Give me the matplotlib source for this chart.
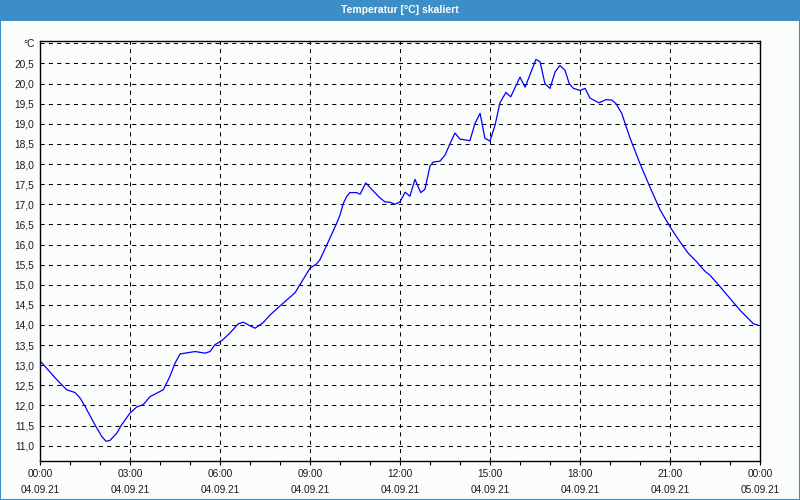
import numpy as np
import matplotlib
matplotlib.use('Agg')
import matplotlib.pyplot as plt
import matplotlib.patches as mpatches

# Temperature readings, hours since 04.09.21 00:00
hours = [0, 0.56, 0.89, 1.17, 1.33, 1.5, 1.83, 2.06, 2.2, 2.33, 2.56, 2.72,
         3.0, 3.22, 3.44, 3.67, 4.11, 4.33, 4.5, 4.67, 5.17, 5.5, 5.67, 5.83,
         6.06, 6.33, 6.61, 6.78, 7.0, 7.17, 7.44, 7.67, 7.98, 8.5, 9.0, 9.22,
         9.33, 9.61, 9.89, 10.0, 10.11, 10.22, 10.33, 10.56, 10.67, 10.86,
         11.11, 11.33, 11.5, 11.67, 11.83, 12.0, 12.17, 12.33, 12.5, 12.69,
         12.83, 13.0, 13.11, 13.33, 13.5, 13.67, 13.83, 14.0, 14.33, 14.5,
         14.67, 14.83, 15.0, 15.17, 15.33, 15.53, 15.69, 16.0, 16.17, 16.37,
         16.53, 16.67, 16.83, 17.0, 17.17, 17.33, 17.5, 17.64, 17.78, 18.0,
         18.17, 18.33, 18.63, 18.87, 19.06, 19.2, 19.39, 19.67, 20.0, 20.33,
         20.67, 21.0, 21.33, 21.61, 21.89, 22.17, 22.33, 22.67, 23.0, 23.33,
         23.78, 23.92]
temps = [13.11, 12.64, 12.39, 12.32, 12.19, 11.98, 11.52, 11.23, 11.11, 11.13,
         11.31, 11.52, 11.81, 11.96, 12.02, 12.22, 12.39, 12.72, 13.05, 13.28,
         13.34, 13.30, 13.34, 13.51, 13.61, 13.80, 14.03, 14.07, 13.98, 13.92,
         14.06, 14.25, 14.46, 14.80, 15.41, 15.52, 15.62, 16.07, 16.53, 16.73,
         17.02, 17.19, 17.29, 17.29, 17.25, 17.53, 17.33, 17.16, 17.06, 17.05,
         17.00, 17.06, 17.30, 17.20, 17.62, 17.29, 17.37, 17.95, 18.05, 18.07,
         18.22, 18.51, 18.77, 18.62, 18.58, 19.01, 19.26, 18.64, 18.57, 18.97,
         19.52, 19.78, 19.67, 20.16, 19.91, 20.29, 20.60, 20.54, 20.00, 19.88,
         20.29, 20.45, 20.33, 20.00, 19.88, 19.83, 19.88, 19.64, 19.52, 19.60,
         19.59, 19.50, 19.26, 18.64, 18.01, 17.43, 16.86, 16.44, 16.07, 15.78,
         15.57, 15.33, 15.24, 14.95, 14.66, 14.37, 14.03, 14.00]

x_ticks = [0, 3, 6, 9, 12, 15, 18, 21, 24]
x_labels = ['00:00\n04.09.21', '03:00\n04.09.21', '06:00\n04.09.21',
            '09:00\n04.09.21', '12:00\n04.09.21', '15:00\n04.09.21',
            '18:00\n04.09.21', '21:00\n04.09.21', '00:00\n05.09.21']
y_ticks = [11.0, 11.5, 12.0, 12.5, 13.0, 13.5, 14.0, 14.5, 15.0, 15.5, 16.0,
           16.5, 17.0, 17.5, 18.0, 18.5, 19.0, 19.5, 20.0, 20.5, 21.0]

BG = '#fbfdfc'
FRAME = '#3c8fc6'
TXT = '#1a1a1a'
plt.rcParams['font.family'] = ['Liberation Sans', 'DejaVu Sans']

fig = plt.figure(figsize=(8, 5), dpi=100)
fig.patch.set_facecolor(BG)

# title bar + window border
fig.add_artist(mpatches.Rectangle((0, 1 - 21 / 500), 1, 21 / 500, transform=fig.transFigure,
                                  facecolor=FRAME, edgecolor='none'))
fig.add_artist(mpatches.Rectangle((0.0006, 0.001), 0.9988, 0.998, transform=fig.transFigure,
                                  facecolor='none', edgecolor=FRAME, lw=1.5))
fig.text(0.5, 1 - 10 / 500, 'Temperatur [°C] skaliert', color='white',
         fontsize=7.5, fontweight='bold', ha='center', va='center')

ax = fig.add_axes([0.05, 0.0786, 0.90, 0.84])
ax.set_facecolor(BG)
ax.plot(hours, temps, color='#0000ff', lw=0.9)

ax.set_xlim(0, 24)
ax.set_ylim(10.627, 21.065)
ax.set_xticks(x_ticks)
ax.set_xticklabels(x_labels, fontsize=7.3, linespacing=1.75, color=TXT)
ax.set_xticks(np.arange(0, 25, 1), minor=True)
ax.set_yticks(y_ticks)
ax.set_yticklabels(['°C' if v == 21.0 else f'{v:.1f}'.replace('.', ',') for v in y_ticks],
                   fontsize=7.3, color=TXT)

ax.tick_params(axis='x', which='both', direction='out', length=3, width=0.8, pad=3)
ax.tick_params(axis='y', length=0, pad=4)

ax.grid(True, which='major', color='black', lw=0.75, linestyle=(0, (4, 4)))

for s in ax.spines.values():
    s.set_linewidth(1.0)
    s.set_color('black')

fig.savefig('out.png', dpi=100, facecolor=fig.get_facecolor())
